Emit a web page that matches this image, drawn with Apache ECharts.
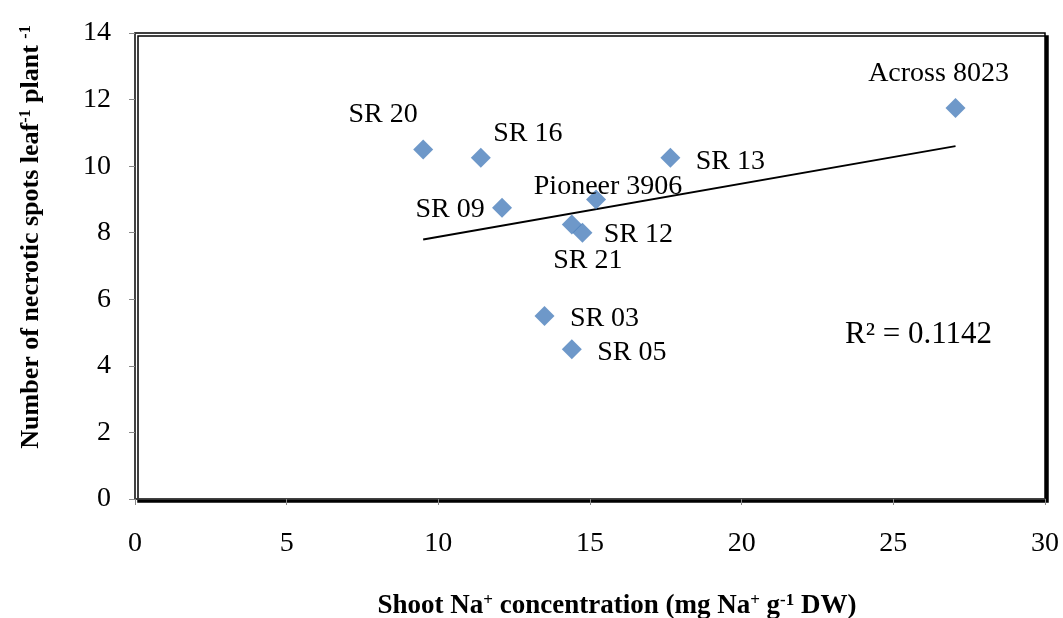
<!DOCTYPE html>
<html>
<head>
<meta charset="utf-8">
<script src="https://cdn.jsdelivr.net/npm/echarts@6/dist/echarts.min.js"></script>
<style>
  html, body { margin: 0; padding: 0; background: #fff; }
  #chart { width: 1063px; height: 618px; }
</style>
</head>
<body>
<div id="chart"></div>
<script>
// Genotype names and their measured values
const genotypes = ['SR 20', 'SR 16', 'SR 09', 'Pioneer 3906', 'SR 13', 'SR 12', 'SR 21', 'SR 03', 'SR 05', 'Across 8023'];
const shootNa = [9.5, 11.4, 12.1, 15.2, 17.65, 14.75, 14.4, 13.5, 14.4, 27.05];
const necroticSpots = [10.5, 10.25, 8.75, 9.0, 10.25, 8.0, 8.25, 5.5, 4.5, 11.75];
const xTicks = [0, 5, 10, 15, 20, 25, 30];
const yTicks = [0, 2, 4, 6, 8, 10, 12, 14];
const rSquaredText = 'R² = 0.1142';

// Label placement for each genotype (pixel offsets from the marker centre)
const labelOffsets = [
  [-40, -35], [47, -24], [-52, 2], [12, -13], [60, 4],
  [56, 2], [16, 36], [60, 3], [60, 3], [-17, -34]
];

// Least-squares linear trend line
const n = shootNa.length;
const mx = shootNa.reduce((a, b) => a + b, 0) / n;
const my = necroticSpots.reduce((a, b) => a + b, 0) / n;
let sxy = 0, sxx = 0;
for (let i = 0; i < n; i++) {
  sxy += (shootNa[i] - mx) * (necroticSpots[i] - my);
  sxx += (shootNa[i] - mx) * (shootNa[i] - mx);
}
const slope = sxy / sxx;
const intercept = my - slope * mx;
const xMin = Math.min(...shootNa), xMax = Math.max(...shootNa);
const trend = [[xMin, intercept + slope * xMin], [xMax, intercept + slope * xMax]];

const serif = '"Liberation Serif", "Times New Roman", serif';

const points = shootNa.map((x, i) => ({
  value: [x, necroticSpots[i]],
  name: genotypes[i],
  label: { offset: labelOffsets[i] }
}));

const titleRich = (size, supSize, lift) => ({
  b: { fontFamily: serif, fontSize: size, fontWeight: 'bold', color: '#000' },
  s: { fontFamily: serif, fontSize: supSize, fontWeight: 'bold', color: '#000', padding: [0, 0, lift, 0] }
});

const chart = echarts.init(document.getElementById('chart'), null, { renderer: 'canvas' });
chart.setOption({
  animation: false,
  backgroundColor: '#fff',
  grid: {
    left: 135, right: 18, top: 33, bottom: 119,
    containLabel: false,
    outerBoundsMode: 'none',
    show: true,
    backgroundColor: '#fff',
    borderColor: '#000',
    borderWidth: 1.5,
    shadowColor: '#000',
    shadowBlur: 0,
    shadowOffsetX: 3,
    shadowOffsetY: 3
  },
  xAxis: {
    type: 'value',
    min: xTicks[0], max: xTicks[xTicks.length - 1], interval: 5,
    splitLine: { show: false },
    axisLine: { show: true, lineStyle: { color: '#444', width: 1.5 } },
    axisTick: { show: true, length: 6, lineStyle: { color: '#888' } },
    axisLabel: { color: '#000', fontFamily: serif, fontSize: 28, margin: 31 },
    name: '{b|Shoot Na}{s|+}{b| concentration (mg Na}{s|+}{b| g}{s|-1}{b| DW)}',
    nameLocation: 'middle',
    nameGap: 93,
    nameTextStyle: {
      padding: [0, 0, 0, 54],
      rich: titleRich(27, 17, 11)
    }
  },
  yAxis: {
    type: 'value',
    min: yTicks[0], max: yTicks[yTicks.length - 1], interval: 2,
    splitLine: { show: false },
    axisLine: { show: true, lineStyle: { color: '#444', width: 1.5 } },
    axisTick: { show: true, length: 6, lineStyle: { color: '#888' } },
    axisLabel: { color: '#000', fontFamily: serif, fontSize: 28, margin: 24 },
    name: '{b|Number of necrotic spots leaf}{s|-1}{b| plant }{s|-1}',
    nameLocation: 'middle',
    nameRotate: 90,
    nameGap: 90,
    nameTextStyle: {
      padding: [0, 0, 0, 58],
      rich: titleRich(26, 16, 11)
    }
  },
  series: [
    {
      type: 'line',
      data: trend,
      symbol: 'none',
      lineStyle: { color: '#000', width: 2 },
      silent: true,
      z: 1
    },
    {
      type: 'scatter',
      data: points,
      symbol: 'diamond',
      symbolSize: 20,
      itemStyle: { color: '#4A7EBB' },
      label: {
        show: true,
        position: 'inside',
        formatter: p => p.name,
        fontFamily: serif,
        fontSize: 28,
        color: '#000',
        opacity: 1,
        textBorderWidth: 0
      },
      z: 3
    }
  ],
  graphic: [
    {
      type: 'text',
      left: 845, top: 319,
      style: { text: rSquaredText, font: '31px ' + serif, fill: '#000' }
    }
  ]
});
</script>
</body>
</html>
